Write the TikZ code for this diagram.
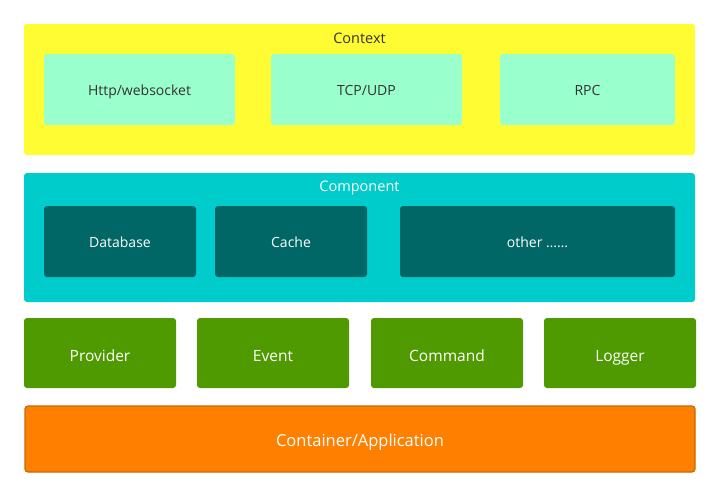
\documentclass[tikz,border=0pt]{standalone}
\usepackage{fontspec}
\setmainfont{Open Sans}
\definecolor{ctxy}{HTML}{FFFC33}
\definecolor{mint}{HTML}{99FFCC}
\definecolor{cyanb}{HTML}{00CCCC}
\definecolor{teal2}{HTML}{006666}
\definecolor{grn}{HTML}{4E9A00}
\definecolor{orng}{HTML}{FF8000}
\definecolor{orngd}{HTML}{CC6600}
\definecolor{txtd}{HTML}{333333}
\begin{document}
\begin{tikzpicture}[x=1pt,y=-1pt,
  box/.style={rounded corners=3pt},
  lbl/.style={anchor=base,inner sep=0pt,font=\fontsize{14}{16}\selectfont},
  tlbl/.style={anchor=base,inner sep=0pt,font=\fontsize{14.5}{17}\selectfont},
  blbl/.style={anchor=base,inner sep=0pt,font=\fontsize{15.5}{18}\selectfont}]
\useasboundingbox[fill=white] (0,0) rectangle (720,498);
% Context
\fill[box,ctxy] (24,24) rectangle (695,155);
\node[tlbl,text=txtd] (ctx) at (359.5,43.3) {Context};
\fill[box,mint] (44,54) rectangle (235,125);
\node[lbl,text=txtd] (http) at (139.5,95) {Http/websocket};
\fill[box,mint] (271,54) rectangle (462,125);
\node[lbl,text=txtd] (tcp) at (366.5,95) {TCP/UDP};
\fill[box,mint] (500,54) rectangle (675,125);
\node[lbl,text=txtd] (rpc) at (587.5,95) {RPC};
% Component
\fill[box,cyanb] (24,173) rectangle (695,302);
\node[tlbl,text=white] (comp) at (359.5,191.5) {Component};
\fill[box,teal2] (44,206) rectangle (196,277);
\node[lbl,text=white] (db) at (120,247) {Database};
\fill[box,teal2] (215,206) rectangle (367,277);
\node[lbl,text=white] (cache) at (291,247) {Cache};
\fill[box,teal2] (400,206) rectangle (675,277);
\node[lbl,text=white] (other) at (537.5,247) {other \ldots\ldots};
% Row
\fill[box,grn] (24,318) rectangle (176,388);
\node[blbl,text=white] (prov) at (100,361) {Provider};
\fill[box,grn] (197,318) rectangle (349,388);
\node[blbl,text=white] (event) at (273,361) {Event};
\fill[box,grn] (371,318) rectangle (523,388);
\node[blbl,text=white] (cmd) at (447,361) {Command};
\fill[box,grn] (544,318) rectangle (696,388);
\node[blbl,text=white] (log) at (620,361) {Logger};
% Container
\draw[box,fill=orng,draw=orngd,line width=1.2pt] (25,406) rectangle (695,472);
\node[blbl,text=white,font=\fontsize{16.5}{19}\selectfont] (cont) at (360,446.7) {Container/Application};
\end{tikzpicture}
\end{document}
